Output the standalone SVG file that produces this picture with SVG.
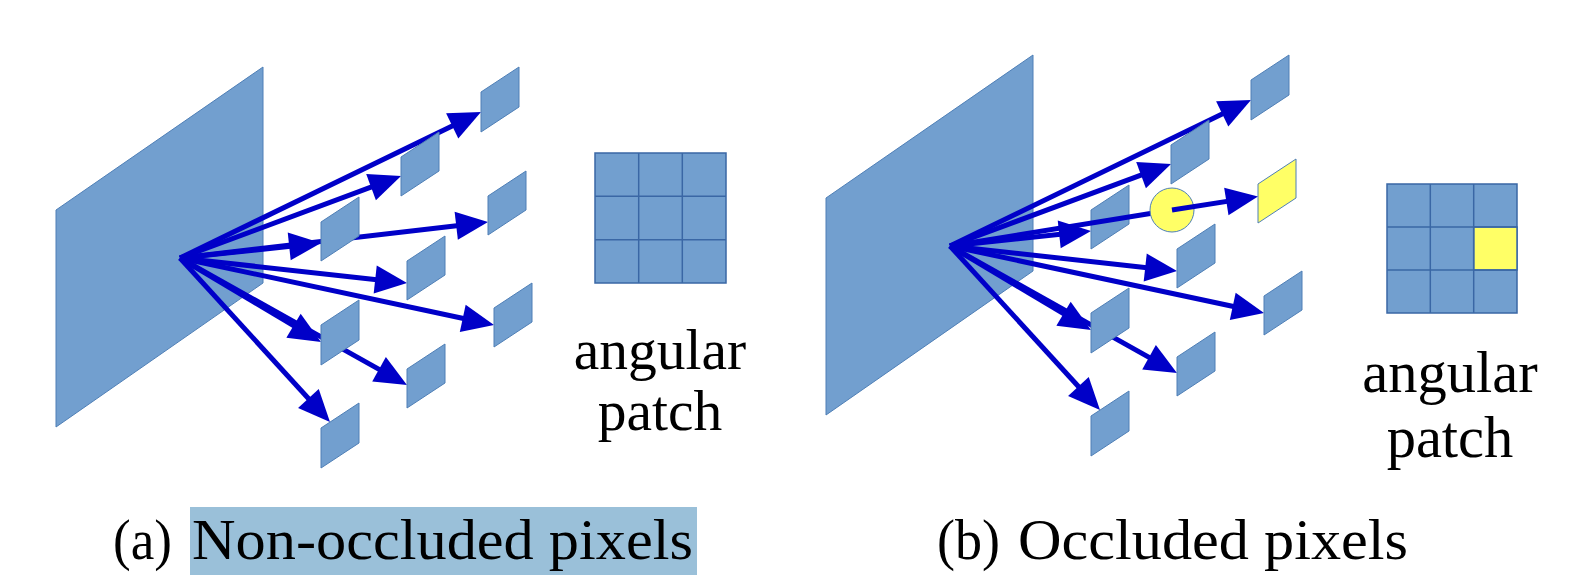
<svg xmlns="http://www.w3.org/2000/svg" width="1570" height="587" viewBox="0 0 1570 587">
<style>
.plane{fill:#729fcf;stroke:#4f7fb6;stroke-width:1}
.patch{fill:#729fcf;stroke:#4f7fb6;stroke-width:1}
.occ{fill:#ffff66;stroke:#4f7fb6;stroke-width:1}
.ray{stroke:#0000c8;stroke-width:5;fill:none}
.ah{marker-end:url(#arrow)}
.grid{fill:#729fcf;stroke:#3a67a5;stroke-width:1.5}
.gl{stroke:#3a67a5;stroke-width:1.5}
.lbl{font-family:"Liberation Serif","Times New Roman",serif;fill:#000}
</style>
<defs>
<marker id="arrow" markerUnits="userSpaceOnUse" markerWidth="32" markerHeight="28" refX="20" refY="14" orient="auto" overflow="visible">
<path d="M0,0 L32,14 L0,28 z" fill="#0000c8"/>
</marker>
</defs>

<!-- Panel (a) -->
<g id="panel-a">
  <polygon id="a-plane" class="plane" points="56,210 263,67 263,283 56,427"/>
  <g id="a-connectors">
    <line class="ray ah" x1="180" y1="258" x2="470.2" y2="117.2"/>
    <line class="ray ah" x1="180" y1="258" x2="389.8" y2="180.2"/>
    <line class="ray ah" x1="180" y1="258" x2="476.1" y2="223.4"/>
    <line class="ray ah" x1="180" y1="258" x2="309.1" y2="244.3"/>
    <line class="ray ah" x1="180" y1="258" x2="395.1" y2="281.7"/>
    <line class="ray ah" x1="180" y1="258" x2="482.3" y2="322.5"/>
    <line class="ray ah" x1="180" y1="258" x2="310.7" y2="335.9"/>
    <line class="ray ah" x1="180" y1="258" x2="396.5" y2="379.1"/>
    <line class="ray ah" x1="180" y1="258" x2="321.9" y2="413.2"/>
  </g>
  <g id="a-p1"><polygon class="patch" points="481,92 519,67 519,107 481,132"/></g>
  <g id="a-p2"><polygon class="patch" points="401,157 439,132 439,171 401,196"/></g>
  <g id="a-p3"><polygon class="patch" points="488,196 526,171 526,210 488,235"/></g>
  <g id="a-p4"><polygon class="patch" points="321,222 359,197 359,236 321,261"/></g>
  <g id="a-p5"><polygon class="patch" points="407,261 445,236 445,275 407,300"/></g>
  <g id="a-p6"><polygon class="patch" points="494,308 532,283 532,322 494,347"/></g>
  <g id="a-p7"><polygon class="patch" points="321,325 359,300 359,340 321,365"/></g>
  <g id="a-p8"><polygon class="patch" points="407,369 445,344 445,383 407,408"/></g>
  <g id="a-p9"><polygon class="patch" points="321,428 359,403 359,443 321,468"/></g>
</g>

<g id="a-angular-patch">
  <rect class="grid" x="595" y="153" width="131" height="130"/>
  <line class="gl" x1="638.7" y1="153" x2="638.7" y2="283"/>
  <line class="gl" x1="682.3" y1="153" x2="682.3" y2="283"/>
  <line class="gl" x1="595" y1="196.3" x2="726" y2="196.3"/>
  <line class="gl" x1="595" y1="239.7" x2="726" y2="239.7"/>
  <text class="lbl" x="660" y="369" font-size="57.5" text-anchor="middle">angular</text>
  <text class="lbl" x="660" y="430" font-size="57.5" text-anchor="middle">patch</text>
</g>

<!-- Panel (b) -->
<g id="panel-b" transform="translate(770,-12)">
  <polygon id="b-plane" class="plane" points="56,210 263,67 263,283 56,427"/>
  <g id="b-connectors">
    <line class="ray ah" x1="180" y1="258" x2="470.2" y2="117.2"/>
    <line class="ray ah" x1="180" y1="258" x2="389.8" y2="180.2"/>
    <line class="ray ah" x1="180" y1="258" x2="309.1" y2="244.3"/>
    <line class="ray ah" x1="180" y1="258" x2="395.1" y2="281.7"/>
    <line class="ray ah" x1="180" y1="258" x2="482.3" y2="322.5"/>
    <line class="ray ah" x1="180" y1="258" x2="310.7" y2="335.9"/>
    <line class="ray ah" x1="180" y1="258" x2="396.5" y2="379.1"/>
    <line class="ray ah" x1="180" y1="258" x2="321.9" y2="413.2"/>
  </g>
  <g id="b-p1"><polygon class="patch" points="481,92 519,67 519,107 481,132"/></g>
  <g id="b-p2"><polygon class="patch" points="401,157 439,132 439,171 401,196"/></g>
  <g id="b-p3"><polygon class="occ" points="488,196 526,171 526,210 488,235"/></g>
  <g id="b-p4"><polygon class="patch" points="321,222 359,197 359,236 321,261"/></g>
  <g id="b-p5"><polygon class="patch" points="407,261 445,236 445,275 407,300"/></g>
  <g id="b-p6"><polygon class="patch" points="494,308 532,283 532,322 494,347"/></g>
  <g id="b-p7"><polygon class="patch" points="321,325 359,300 359,340 321,365"/></g>
  <g id="b-p8"><polygon class="patch" points="407,369 445,344 445,383 407,408"/></g>
  <g id="b-p9"><polygon class="patch" points="321,428 359,403 359,443 321,468"/></g>
  <g id="b-occluded-ray">
    <line class="ray" x1="180" y1="258" x2="402" y2="222"/>
  </g>
  <g id="b-occluder"><circle cx="402" cy="222" r="22" fill="#ffff66" stroke="#4f7fb6" stroke-width="1"/></g>
  <g id="b-occluded-ray-2">
    <line class="ray ah" x1="402" y1="222" x2="476.1" y2="210.4"/>
  </g>
</g>

<g id="b-angular-patch">
  <rect class="grid" x="1387" y="184" width="130" height="129"/>
  <rect x="1473.7" y="227" width="43.3" height="43" fill="#ffff66" stroke="#3a67a5" stroke-width="1.5"/>
  <line class="gl" x1="1430.3" y1="184" x2="1430.3" y2="313"/>
  <line class="gl" x1="1473.7" y1="184" x2="1473.7" y2="313"/>
  <line class="gl" x1="1387" y1="227" x2="1517" y2="227"/>
  <line class="gl" x1="1387" y1="270" x2="1517" y2="270"/>
  <text class="lbl" x="1450" y="392" font-size="58.5" text-anchor="middle">angular</text>
  <text class="lbl" x="1450" y="457" font-size="58.5" text-anchor="middle">patch</text>
</g>

<!-- Captions -->
<g id="caption-a">
  <rect x="190" y="507" width="507" height="68" fill="#9ac0d9"/>
  <text class="lbl" x="113" y="559" font-size="56" textLength="59" lengthAdjust="spacingAndGlyphs">(a)</text>
  <text class="lbl" x="192" y="559" font-size="56" textLength="501" lengthAdjust="spacingAndGlyphs">Non-occluded pixels</text>
</g>
<g id="caption-b">
  <text class="lbl" x="937" y="559" font-size="56" textLength="63" lengthAdjust="spacingAndGlyphs">(b)</text>
  <text class="lbl" x="1018" y="559" font-size="56" textLength="390" lengthAdjust="spacingAndGlyphs">Occluded pixels</text>
</g>
</svg>
